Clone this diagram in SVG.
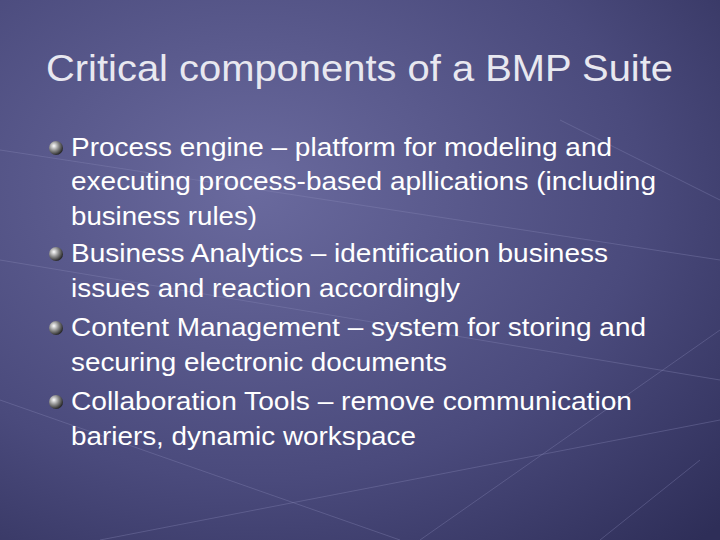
<svg xmlns="http://www.w3.org/2000/svg" width="720" height="540" viewBox="0 0 720 540">
<defs>
<radialGradient id="bg" cx="0.35" cy="0.35" r="0.9">
<stop offset="0" stop-color="#6a6a9e"/>
<stop offset="0.6" stop-color="#4a4a7c"/>
<stop offset="1" stop-color="#2e2e58"/>
</radialGradient>
<radialGradient id="ball" cx="0.35" cy="0.35" r="0.7">
<stop offset="0" stop-color="#ffffff"/>
<stop offset="0.5" stop-color="#8a8a8a"/>
<stop offset="1" stop-color="#202020"/>
</radialGradient>
<style>
.t{font-family:"Liberation Sans",Arial,sans-serif;fill:#ffffff;font-size:26px}
.g{stroke:#8a8ab8;stroke-width:1;opacity:0.35;fill:none}
</style>
</defs>
<rect width="720" height="540" fill="url(#bg)"/>
<g class="g">
<path d="M0 150 L720 260 M0 260 L720 380 M100 540 L720 420 M0 400 L400 540 M420 540 L720 330 M560 120 L720 200 M600 540 L700 460"/>
</g>
<text x="46" y="81" textLength="627" lengthAdjust="spacingAndGlyphs" style="font-family:'Liberation Sans',Arial,sans-serif;font-size:37px;fill:#e8e8f0">Critical components of a BMP Suite</text>
<g id="bullets">
<circle cx="56" cy="148" r="7" fill="url(#ball)"/>
<circle cx="56" cy="254" r="7" fill="url(#ball)"/>
<circle cx="56" cy="328" r="7" fill="url(#ball)"/>
<circle cx="56" cy="402" r="7" fill="url(#ball)"/>
</g>
<g id="text">
<text class="t" x="71" y="156" textLength="541" lengthAdjust="spacingAndGlyphs">Process engine – platform for modeling and</text>
<text class="t" x="71" y="190" textLength="585" lengthAdjust="spacingAndGlyphs">executing process-based apllications (including</text>
<text class="t" x="71" y="225" textLength="186" lengthAdjust="spacingAndGlyphs">business rules)</text>
<text class="t" x="71" y="262" textLength="537" lengthAdjust="spacingAndGlyphs">Business Analytics – identification business</text>
<text class="t" x="71" y="297" textLength="389" lengthAdjust="spacingAndGlyphs">issues and reaction accordingly</text>
<text class="t" x="71" y="336" textLength="575" lengthAdjust="spacingAndGlyphs">Content Management – system for storing and</text>
<text class="t" x="71" y="371" textLength="376" lengthAdjust="spacingAndGlyphs">securing electronic documents</text>
<text class="t" x="71" y="410" textLength="561" lengthAdjust="spacingAndGlyphs">Collaboration Tools – remove communication</text>
<text class="t" x="71" y="445" textLength="345" lengthAdjust="spacingAndGlyphs">bariers, dynamic workspace</text>
</g>
</svg>
